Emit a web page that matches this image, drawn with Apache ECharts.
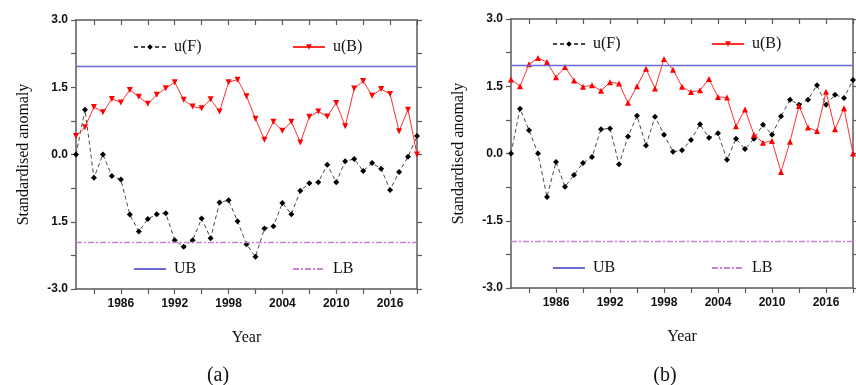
<!DOCTYPE html>
<html>
<head>
<meta charset="utf-8">
<script src="https://cdn.jsdelivr.net/npm/echarts@6/dist/echarts.min.js"></script>
<style>
html,body{margin:0;padding:0;background:#fff;}
#main{width:856px;height:385px;}
</style>
</head>
<body>
<div id="main"></div>
<script>
// years on the x axis
var years = [];
for (var y = 1981; y <= 2019; y++) years.push(String(y));

// panel (a)
var uF_a = [0.0, 1.0, -0.52, 0.0, -0.48, -0.56, -1.34, -1.72, -1.44, -1.33,
	-1.31, -1.91, -2.06, -1.91, -1.43, -1.87, -1.07, -1.02, -1.49, -2.0,
	-2.28, -1.65, -1.6, -1.08, -1.33, -0.81, -0.64, -0.62, -0.23, -0.62,
	-0.15, -0.1, -0.37, -0.19, -0.32, -0.79, -0.39, -0.05, 0.41];
var uB_a = [0.41, 0.61, 1.06, 0.94, 1.24, 1.16, 1.44, 1.29, 1.13, 1.33,
	1.48, 1.61, 1.22, 1.07, 1.03, 1.23, 0.96, 1.61, 1.67, 1.3,
	0.8, 0.33, 0.73, 0.53, 0.73, 0.27, 0.84, 0.96, 0.85, 1.15,
	0.63, 1.47, 1.64, 1.31, 1.46, 1.35, 0.52, 1.0, 0.0];

// panel (b)
var uF_b = [0.0, 1.0, 0.52, 0.0, -0.97, -0.19, -0.74, -0.48, -0.21, -0.08,
	0.54, 0.56, -0.24, 0.38, 0.84, 0.18, 0.82, 0.42, 0.04, 0.07,
	0.3, 0.65, 0.35, 0.45, -0.14, 0.33, 0.1, 0.33, 0.64, 0.42,
	0.83, 1.2, 1.09, 1.2, 1.52, 1.09, 1.31, 1.24, 1.64];
var uB_b = [1.65, 1.5, 1.99, 2.13, 2.04, 1.7, 1.93, 1.63, 1.49, 1.52,
	1.4, 1.59, 1.56, 1.13, 1.5, 1.89, 1.45, 2.11, 1.87, 1.49,
	1.37, 1.41, 1.66, 1.26, 1.25, 0.61, 0.98, 0.42, 0.24, 0.28,
	-0.41, 0.26, 1.06, 0.58, 0.5, 1.38, 0.54, 1.01, 0.0];

var UB = 1.96;
var LB = -1.96;

// y tick labels (panel a has the minus sign missing on -1.5)
var yTickValues = [-3, -1.5, 0, 1.5, 3];
var yTickLabelsA = ['-3.0', '1.5', '0.0', '1.5', '3.0'];
var yTickLabelsB = ['-3.0', '-1.5', '0.0', '1.5', '3.0'];

var axisColor = '#5a5a5a';
var ubColor = '#6a6ad6';
var lbColor = '#c684d0';
var serif = 'Liberation Serif';
var sans = 'Liberation Sans';

function yearTick(idx, val) { return Number(val) % 3 === 0; }
function yearLabel(idx, val) { return Number(val) % 6 === 0; }

function xAxes(gi) {
	return [{
		type: 'category', gridIndex: gi, data: years, boundaryGap: false, position: 'bottom',
		name: 'Year', nameLocation: 'middle', nameGap: 41,
		nameTextStyle: {fontFamily: serif, fontSize: 16, color: '#111'},
		axisLine: {onZero: false, lineStyle: {color: axisColor, width: 1.5}},
		axisTick: {interval: yearTick, length: 5, lineStyle: {color: axisColor, width: 1.2}},
		axisLabel: {interval: yearLabel, fontFamily: sans, fontWeight: 'bold', fontSize: 12, color: '#111', margin: 9},
		splitLine: {show: false}
	}, {
		type: 'category', gridIndex: gi, data: years, boundaryGap: false, position: 'top',
		axisLine: {onZero: false, lineStyle: {color: axisColor, width: 1.5}},
		axisTick: {interval: yearTick, inside: true, length: 5, lineStyle: {color: axisColor, width: 1.2}},
		axisLabel: {show: false},
		splitLine: {show: false}
	}];
}

function yAxes(gi, labels) {
	return [{
		type: 'value', gridIndex: gi, min: -3, max: 3, interval: 0.75, position: 'left',
		name: 'Standardised anomaly', nameLocation: 'middle', nameGap: 44,
		nameTextStyle: {fontFamily: serif, fontSize: 16, color: '#111'},
		axisLine: {show: true, onZero: false, lineStyle: {color: axisColor, width: 1.5}},
		axisTick: {show: true, length: 5, lineStyle: {color: axisColor, width: 1.2}},
		axisLabel: {
			fontFamily: sans, fontWeight: 'bold', fontSize: 12, color: '#111', margin: 8,
			formatter: function (v) {
				for (var i = 0; i < yTickValues.length; i++) {
					if (Math.abs(yTickValues[i] - v) < 1e-6) return labels[i];
				}
				return '';
			}
		},
		splitLine: {show: false}
	}, {
		type: 'value', gridIndex: gi, min: -3, max: 3, interval: 0.75, position: 'right',
		axisLine: {show: true, onZero: false, lineStyle: {color: axisColor, width: 1.5}},
		axisTick: {show: true, length: 5, lineStyle: {color: axisColor, width: 1.2}},
		axisLabel: {show: false},
		splitLine: {show: false}
	}];
}

function boundLine(value, color, type) {
	return {
		silent: true, symbol: 'none', label: {show: false},
		lineStyle: {color: color, width: 1.4, type: type, opacity: 1},
		emphasis: {disabled: true},
		data: [{yAxis: value}]
	};
}

function panelSeries(gi, fData, bData, bSymbolRotate) {
	var xi = gi * 2, yi = gi * 2;
	return [{
		name: 'UB', type: 'line', xAxisIndex: xi, yAxisIndex: yi, data: [], z: 2,
		symbol: 'none', itemStyle: {color: ubColor}, lineStyle: {color: ubColor, width: 1.4},
		markLine: boundLine(UB, ubColor, 'solid')
	}, {
		name: 'LB', type: 'line', xAxisIndex: xi, yAxisIndex: yi, data: [], z: 2,
		symbol: 'none', itemStyle: {color: lbColor}, lineStyle: {color: lbColor, width: 1.4, type: [6, 2, 2, 2]},
		markLine: boundLine(LB, lbColor, [6, 2, 2, 2])
	}, {
		name: 'u(F)', type: 'line', xAxisIndex: xi, yAxisIndex: yi, data: fData,
		symbol: 'diamond', symbolSize: 6, showAllSymbol: true, z: 3,
		lineStyle: {color: '#4a4a4a', width: 1, type: [4, 3]},
		itemStyle: {color: '#000'}
	}, {
		name: 'u(B)', type: 'line', xAxisIndex: xi, yAxisIndex: yi, data: bData,
		symbol: 'triangle', symbolSize: 6, symbolRotate: bSymbolRotate, showAllSymbol: true, z: 4,
		lineStyle: {color: '#ff3030', width: 1},
		itemStyle: {color: '#ff0000'}
	}];
}

function oneLegend(name, left, top, lineOnly) {
	var lg = {
		data: [name], left: left, top: top, itemWidth: 32, itemHeight: 7,
		padding: 0, selectedMode: false,
		textStyle: {fontFamily: serif, fontSize: 16, color: '#111', padding: [0, 0, 0, 3]}
	};
	if (lineOnly) lg.itemStyle = {opacity: 0};
	return lg;
}

var chart = echarts.init(document.getElementById('main'), null, {renderer: 'canvas'});
chart.setOption({
	animation: false,
	backgroundColor: '#fff',
	title: [
		{text: '(a)', left: 213, top: 361, textAlign: 'center',
			textStyle: {fontFamily: serif, fontSize: 20, fontWeight: 'normal', color: '#111'}},
		{text: '(b)', left: 660, top: 361, textAlign: 'center',
			textStyle: {fontFamily: serif, fontSize: 20, fontWeight: 'normal', color: '#111'}}
	],
	legend: [
		oneLegend('u(F)', 133, 39), oneLegend('u(B)', 292, 39),
		oneLegend('UB', 133, 261, true), oneLegend('LB', 292, 261, true),
		oneLegend('u(F)', 552, 36), oneLegend('u(B)', 711, 36),
		oneLegend('UB', 552, 260, true), oneLegend('LB', 711, 260, true)
	],
	grid: [
		{left: 76, top: 20, width: 341, height: 269},
		{left: 511, top: 19, width: 342, height: 269}
	],
	xAxis: xAxes(0).concat(xAxes(1)),
	yAxis: yAxes(0, yTickLabelsA).concat(yAxes(1, yTickLabelsB)),
	series: panelSeries(0, uF_a, uB_a, 180).concat(panelSeries(1, uF_b, uB_b, 0))
});
</script>
</body>
</html>
